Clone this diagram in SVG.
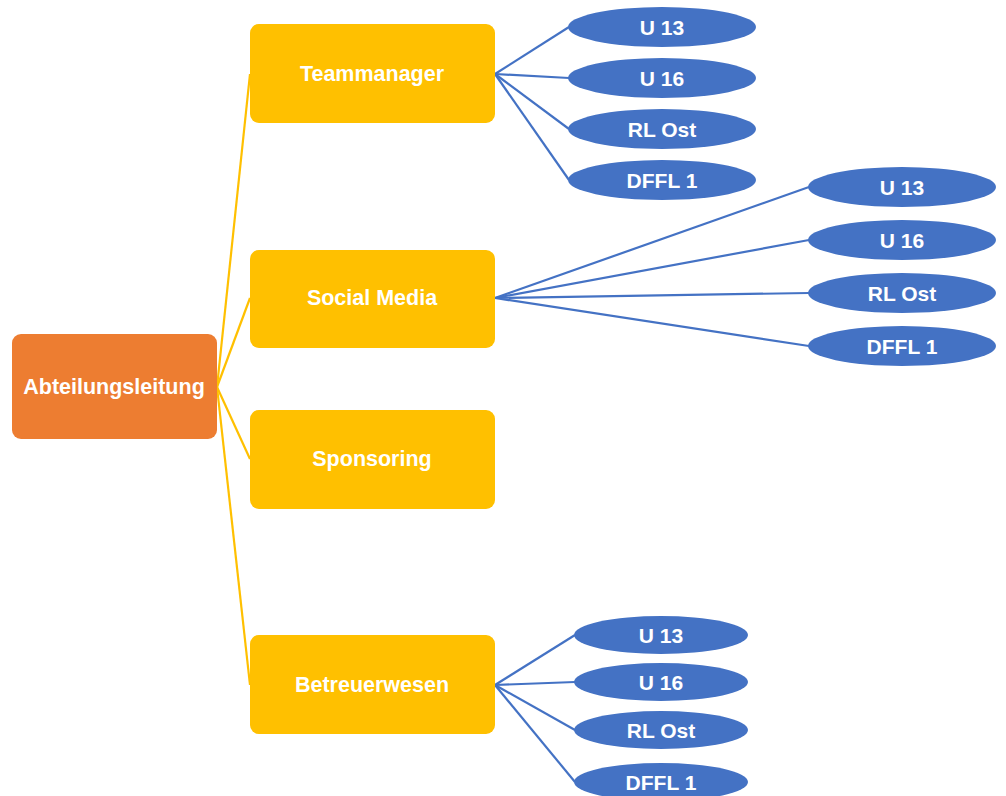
<svg xmlns="http://www.w3.org/2000/svg" width="1006" height="796" viewBox="0 0 1006 796">
<style>
.root{fill:#ED7D31}
.box{fill:#FFC000}
.ell{fill:#4472C4}
text{font-family:"Liberation Sans",Arial,sans-serif;font-weight:bold;fill:#fff;text-anchor:middle;dominant-baseline:central;font-size:21.5px}
.e text{font-size:21px}
.y{stroke:#FFC000;stroke-width:2.2;fill:none}
.b{stroke:#4472C4;stroke-width:2.2;fill:none}
</style>
<rect width="1006" height="796" fill="#fff"/>
<g id="connectors">
<line class="y" x1="217" y1="387" x2="250" y2="74"/>
<line class="y" x1="217" y1="387" x2="250" y2="298"/>
<line class="y" x1="217" y1="387" x2="250" y2="459"/>
<line class="y" x1="217" y1="387" x2="250" y2="685"/>
<line class="b" x1="495" y1="74" x2="569" y2="27"/>
<line class="b" x1="495" y1="74" x2="569" y2="78"/>
<line class="b" x1="495" y1="74" x2="569" y2="129"/>
<line class="b" x1="495" y1="74" x2="569" y2="180"/>
<line class="b" x1="495" y1="298" x2="809" y2="187"/>
<line class="b" x1="495" y1="298" x2="809" y2="240"/>
<line class="b" x1="495" y1="298" x2="809" y2="293"/>
<line class="b" x1="495" y1="298" x2="809" y2="346"/>
<line class="b" x1="495" y1="685" x2="575" y2="635"/>
<line class="b" x1="495" y1="685" x2="575" y2="682"/>
<line class="b" x1="495" y1="685" x2="575" y2="730"/>
<line class="b" x1="495" y1="685" x2="575" y2="782"/>
</g>
<g id="abteilungsleitung"><rect class="root" x="12" y="334" width="205" height="105" rx="9"/><text x="114" y="387">Abteilungsleitung</text></g>
<g id="teammanager"><rect class="box" x="250" y="24" width="245" height="99" rx="9"/><text x="372" y="74">Teammanager</text></g>
<g id="socialmedia"><rect class="box" x="250" y="250" width="245" height="98" rx="9"/><text x="372" y="298">Social Media</text></g>
<g id="sponsoring"><rect class="box" x="250" y="410" width="245" height="99" rx="9"/><text x="372" y="459">Sponsoring</text></g>
<g id="betreuerwesen"><rect class="box" x="250" y="635" width="245" height="99" rx="9"/><text x="372" y="685">Betreuerwesen</text></g>
<g id="tm-u13" class="e"><ellipse class="ell" cx="662" cy="27" rx="94" ry="20"/><text x="662" y="27">U 13</text></g>
<g id="tm-u16" class="e"><ellipse class="ell" cx="662" cy="78" rx="94" ry="20"/><text x="662" y="78">U 16</text></g>
<g id="tm-rlost" class="e"><ellipse class="ell" cx="662" cy="129" rx="94" ry="20"/><text x="662" y="129">RL Ost</text></g>
<g id="tm-dffl1" class="e"><ellipse class="ell" cx="662" cy="180" rx="94" ry="20"/><text x="662" y="180">DFFL 1</text></g>
<g id="sm-u13" class="e"><ellipse class="ell" cx="902" cy="187" rx="94" ry="20"/><text x="902" y="187">U 13</text></g>
<g id="sm-u16" class="e"><ellipse class="ell" cx="902" cy="240" rx="94" ry="20"/><text x="902" y="240">U 16</text></g>
<g id="sm-rlost" class="e"><ellipse class="ell" cx="902" cy="293" rx="94" ry="20"/><text x="902" y="293">RL Ost</text></g>
<g id="sm-dffl1" class="e"><ellipse class="ell" cx="902" cy="346" rx="94" ry="20"/><text x="902" y="346">DFFL 1</text></g>
<g id="bw-u13" class="e"><ellipse class="ell" cx="661" cy="635" rx="87" ry="19"/><text x="661" y="635">U 13</text></g>
<g id="bw-u16" class="e"><ellipse class="ell" cx="661" cy="682" rx="87" ry="19"/><text x="661" y="682">U 16</text></g>
<g id="bw-rlost" class="e"><ellipse class="ell" cx="661" cy="730" rx="87" ry="19"/><text x="661" y="730">RL Ost</text></g>
<g id="bw-dffl1" class="e"><ellipse class="ell" cx="661" cy="782" rx="87" ry="19"/><text x="661" y="782">DFFL 1</text></g>
</svg>
